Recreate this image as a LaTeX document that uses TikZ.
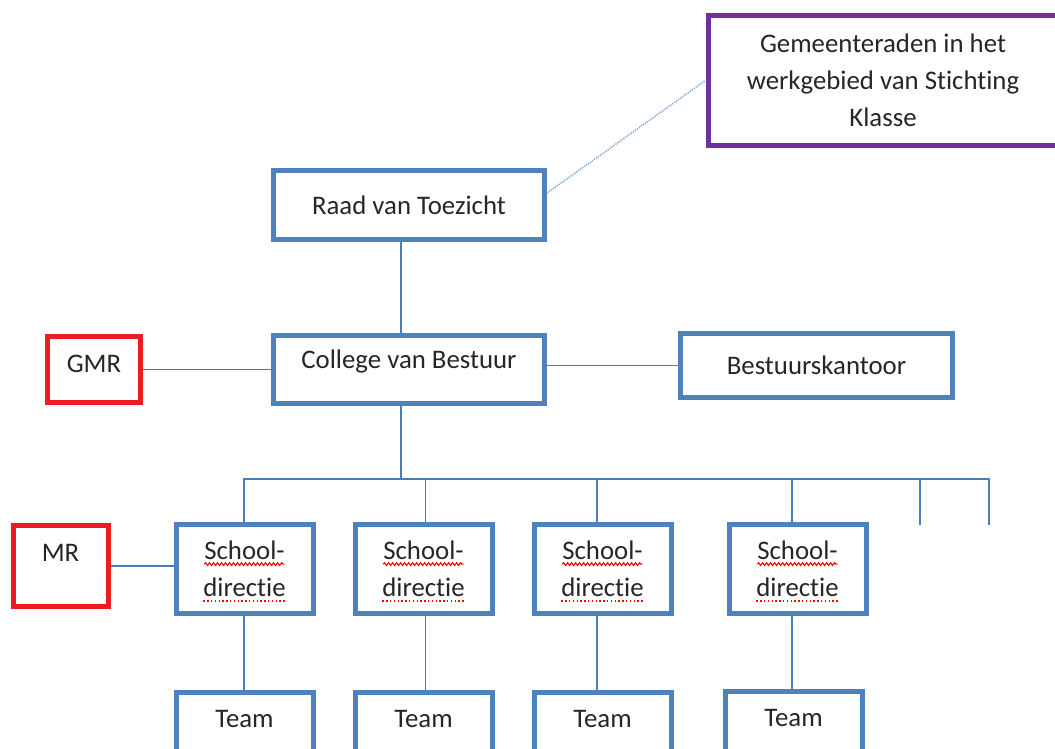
\documentclass[tikz,border=0pt]{standalone}
\usepackage{fontspec}
\setmainfont[Ligatures=NoCommon]{Carlito}
\usepackage{xcolor}
\usetikzlibrary{positioning,decorations.pathmorphing}

\definecolor{orgblue}{HTML}{4F81BD}
\definecolor{linkblue}{HTML}{4A7EBB}
\definecolor{orgred}{HTML}{ED1C24}
\definecolor{orgpurple}{HTML}{7030A0}
\definecolor{dotblue}{HTML}{7FA7DA}

% spell-check marks under words
\newcommand{\spellwave}[1]{\setbox0\hbox{#1}\rlap{\tikz[overlay,baseline=0pt]\draw[red, line width=0.55pt, decorate, decoration={snake, amplitude=0.7pt, segment length=2pt}] (0pt,-2.2pt) -- (\the\wd0,-2.2pt);}\box0}
\newcommand{\spelldots}[1]{\setbox0\hbox{#1}\rlap{\tikz[overlay,baseline=0pt]\draw[red, line width=0.75pt, dash pattern=on 0.7pt off 1.2pt] (0pt,-2.2pt) -- (\the\wd0,-2.2pt);}\box0}

\begin{document}
\begin{tikzpicture}[
    x=0.5pt, y=-0.5pt,
    font=\fontsize{13.4}{18.5}\selectfont,
    org_box/.style={draw, line width=2.5pt, fill=white, inner sep=0pt, align=center, text=black!85},
    blue_box/.style={org_box, draw=orgblue},
    red_box/.style={org_box, draw=orgred},
    purple_box/.style={org_box, draw=orgpurple},
    school_box/.style={blue_box, minimum width=68.5pt, minimum height=44.5pt},
    team_box/.style={blue_box, minimum width=68.5pt, minimum height=32.5pt, text depth=6pt},
    link/.style={draw=linkblue, line width=0.8pt},
    dot_link/.style={draw=dotblue, line width=0.8pt, dash pattern=on 0.6pt off 0.6pt}
]
\fill [white] (0,0) rectangle (1055,749);
\useasboundingbox (0,0) rectangle (1055,749);

\node (gem) [purple_box, minimum width=175pt, minimum height=65pt] at (883,80.5)
    {Gemeenteraden in het\\werkgebied van Stichting\\Klasse};

\node (raad) [blue_box, minimum width=135.5pt, minimum height=34.5pt] at (409,205) {Raad van Toezicht};
\node (college) [blue_box, minimum width=135.5pt, minimum height=34pt, text depth=10pt, below=45.5pt of raad] {College van Bestuur};
\node (gmr) [red_box, minimum width=46.5pt, minimum height=33pt, text depth=6pt, left=64pt of college] {GMR};
\node (kantoor) [blue_box, minimum width=136pt, minimum height=32pt, right=65.5pt of college, yshift=2pt] {Bestuurskantoor};

\node (s1) [school_box] at (244.5,569) {\spellwave{School-}\\\spelldots{directie}};
\node (s2) [school_box, right=18.5pt of s1] {\spellwave{School-}\\\spelldots{directie}};
\node (s3) [school_box, right=18.5pt of s2] {\spellwave{School-}\\\spelldots{directie}};
\node (s4) [school_box, right=26.5pt of s3] {\spellwave{School-}\\\spelldots{directie}};
\node (mr) [red_box, minimum width=47.5pt, minimum height=40.5pt, text depth=13pt, left=31.5pt of s1, yshift=1.5pt] {MR};

\node (t1) [team_box, below=37pt of s1] {Team};
\node (t2) [team_box, below=37pt of s2] {Team};
\node (t3) [team_box, below=37pt of s3] {Team};
\node (t4) [team_box, below=36.5pt of s4, xshift=-2pt] {Team};

\coordinate (bus) at (401,479);
\coordinate (open1) at (920,525);
\coordinate (open2) at (989,525);

\draw [link] ([xshift=-4pt]raad.south) -- ([xshift=-4pt]college.north);
\draw [dot_link] (raad.east) ++(0,-12) -- (gem.west);
\draw [link] (gmr) -- (college);
\draw [link] (kantoor.west) -- (kantoor.west -| college.east);
\draw [link] (mr.east) -- (mr.east -| s1.west);
\draw [link] ([xshift=-4pt]college.south) -- (bus);

\foreach \s/\t/\dx in {s1/t1/-0.25, s2/t2/1, s3/t3/-2.75, s4/t4/-2.75} {
    \path ([xshift=\dx pt]\s.north) coordinate (\s_top) ([xshift=\dx pt]\s.south) coordinate (\s_bot);
    \draw [link] (\s_top |- bus) -- (\s_top);
    \draw [link] (\s_bot) -- (\s_bot |- \t.north);
}
\draw [link] (s1_top) -- (s1_top |- bus) -- (bus -| open2) -- (open2);
\draw [link] (bus -| open1) -- (open1);

\end{tikzpicture}
\end{document}
